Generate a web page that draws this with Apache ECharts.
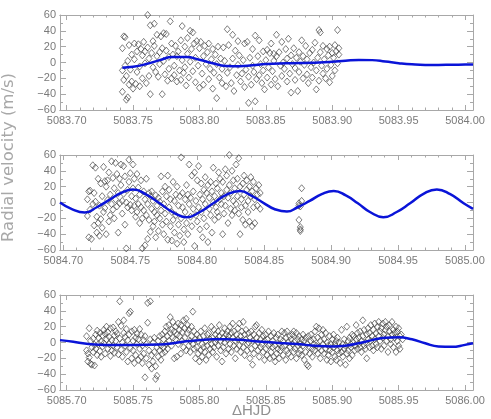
<!DOCTYPE html>
<html>
<head>
<meta charset="utf-8">
<script src="https://cdn.jsdelivr.net/npm/echarts@6/dist/echarts.min.js"></script>
<style>
  html, body { margin: 0; padding: 0; background: #fff; }
  #chart { width: 491px; height: 419px; }
</style>
</head>
<body>
<div id="chart"></div>
<script>
// axis ranges (HJD) of the three nights
var xRanges = [[5083.695, 5084.006], [5084.6975, 5085.006], [5085.695, 5086.006]];
var xTicks1 = [5083.70, 5083.75, 5083.80, 5083.85, 5083.90, 5083.95, 5084.00];
var xTicks2 = [5084.70, 5084.75, 5084.80, 5084.85, 5084.90, 5084.95, 5085.00];
var xTicks3 = [5085.70, 5085.75, 5085.80, 5085.85, 5085.90, 5085.95, 5086.00];
var yTicks = [-60, -40, -20, 0, 20, 40, 60];

// measured radial velocities, night 1
var rv1 = [[5083.742,18],[5083.742,-10],[5083.742,-37],[5083.743,33],[5083.743,-22],[5083.744,32],[5083.744,-4],[5083.745,-47],[5083.745,-17],[5083.746,-44],[5083.746,2],[5083.747,22],[5083.747,-28],[5083.748,-9],[5083.749,10],[5083.749,-24],[5083.750,-33],[5083.751,4],[5083.751,24],[5083.752,-27],[5083.753,-12],[5083.753,14],[5083.754,23],[5083.755,-5],[5083.755,-30],[5083.756,17],[5083.757,9],[5083.757,-20],[5083.758,26],[5083.759,-1],[5083.759,14],[5083.760,-26],[5083.761,19],[5083.761,60],[5083.762,5],[5083.762,-17],[5083.763,47],[5083.763,-40],[5083.764,12],[5083.765,27],[5083.765,-6],[5083.766,49],[5083.766,21],[5083.767,-12],[5083.768,35],[5083.768,8],[5083.769,-18],[5083.770,13],[5083.770,-2],[5083.771,33],[5083.772,-40],[5083.772,18],[5083.773,37],[5083.773,2],[5083.774,-15],[5083.775,15],[5083.775,36],[5083.776,-23],[5083.777,7],[5083.777,-8],[5083.778,52],[5083.779,24],[5083.779,-20],[5083.780,10],[5083.781,-4],[5083.781,-16],[5083.782,21],[5083.783,8],[5083.783,-24],[5083.784,14],[5083.785,-10],[5083.786,28],[5083.786,-22],[5083.787,46],[5083.787,3],[5083.788,-13],[5083.789,20],[5083.789,-6],[5083.790,-29],[5083.791,11],[5083.791,31],[5083.792,-19],[5083.793,1],[5083.793,40],[5083.794,17],[5083.795,-11],[5083.795,38],[5083.796,24],[5083.797,-25],[5083.797,6],[5083.798,27],[5083.799,-4],[5083.800,-32],[5083.800,18],[5083.801,26],[5083.802,-14],[5083.803,8],[5083.803,-28],[5083.804,21],[5083.805,-2],[5083.806,13],[5083.807,-21],[5083.807,24],[5083.808,-8],[5083.809,4],[5083.810,-33],[5083.810,17],[5083.811,-13],[5083.812,10],[5083.813,-45],[5083.813,-2],[5083.814,20],[5083.815,-19],[5083.816,5],[5083.817,-26],[5083.817,-8],[5083.818,19],[5083.819,2],[5083.820,-30],[5083.821,42],[5083.821,-13],[5083.822,22],[5083.823,-6],[5083.824,-26],[5083.825,35],[5083.825,5],[5083.826,-36],[5083.827,15],[5083.828,-16],[5083.829,27],[5083.829,-3],[5083.830,9],[5083.831,-24],[5083.832,-14],[5083.833,3],[5083.834,-31],[5083.834,24],[5083.835,-9],[5083.836,26],[5083.837,-51],[5083.837,-18],[5083.838,6],[5083.839,-28],[5083.840,17],[5083.840,-4],[5083.841,-12],[5083.842,-49],[5083.842,34],[5083.843,-21],[5083.844,8],[5083.845,28],[5083.845,-16],[5083.846,-2],[5083.847,-26],[5083.848,14],[5083.848,-10],[5083.849,-34],[5083.850,3],[5083.851,16],[5083.851,-19],[5083.852,-6],[5083.853,12],[5083.854,-28],[5083.854,24],[5083.855,-11],[5083.856,2],[5083.856,11],[5083.857,-21],[5083.858,35],[5083.858,8],[5083.859,-30],[5083.860,13],[5083.861,-4],[5083.862,-17],[5083.862,26],[5083.863,0],[5083.864,-8],[5083.865,17],[5083.866,-24],[5083.866,5],[5083.867,30],[5083.868,-14],[5083.869,-38],[5083.869,9],[5083.870,-2],[5083.871,18],[5083.872,-22],[5083.872,-7],[5083.873,6],[5083.874,-36],[5083.875,13],[5083.875,-12],[5083.876,1],[5083.877,28],[5083.878,-20],[5083.878,8],[5083.879,-3],[5083.880,21],[5083.881,-15],[5083.881,4],[5083.882,-26],[5083.883,12],[5083.884,-6],[5083.885,16],[5083.885,-19],[5083.886,0],[5083.887,25],[5083.888,-34],[5083.888,-10],[5083.889,6],[5083.890,41],[5083.890,-23],[5083.891,38],[5083.891,13],[5083.892,-4],[5083.893,21],[5083.893,-14],[5083.894,4],[5083.895,-20],[5083.896,17],[5083.896,-8],[5083.897,9],[5083.898,-25],[5083.898,20],[5083.899,-3],[5083.900,12],[5083.900,-17],[5083.901,6],[5083.902,22],[5083.902,-10],[5083.903,14],[5083.904,41],[5083.904,-1],[5083.905,18],[5083.905,10]];

// night 2
var rv2 = [[5084.718,-17],[5084.718,4],[5084.719,14],[5084.719,-44],[5084.720,-9],[5084.720,15],[5084.721,-46],[5084.722,47],[5084.722,-2],[5084.723,-29],[5084.723,12],[5084.724,44],[5084.724,1],[5084.725,-38],[5084.725,-18],[5084.726,30],[5084.726,-26],[5084.727,-4],[5084.727,-42],[5084.728,24],[5084.728,-21],[5084.729,8],[5084.729,-32],[5084.730,-12],[5084.730,45],[5084.731,27],[5084.731,-7],[5084.732,-40],[5084.732,20],[5084.733,28],[5084.733,3],[5084.734,-24],[5084.734,38],[5084.735,-16],[5084.735,10],[5084.736,52],[5084.736,-2],[5084.737,31],[5084.737,-9],[5084.738,18],[5084.738,-20],[5084.739,50],[5084.739,4],[5084.740,36],[5084.740,-5],[5084.741,-38],[5084.741,12],[5084.742,30],[5084.742,-1],[5084.743,48],[5084.743,22],[5084.744,-14],[5084.744,2],[5084.745,46],[5084.745,11],[5084.746,-28],[5084.746,33],[5084.747,-58],[5084.747,0],[5084.748,16],[5084.748,-6],[5084.749,54],[5084.749,26],[5084.750,-3],[5084.750,37],[5084.751,8],[5084.751,-10],[5084.752,48],[5084.752,18],[5084.753,-4],[5084.753,30],[5084.754,-18],[5084.754,5],[5084.755,36],[5084.755,-12],[5084.756,-2],[5084.756,19],[5084.757,-26],[5084.757,10],[5084.758,-6],[5084.758,28],[5084.759,-20],[5084.759,-58],[5084.760,14],[5084.760,-10],[5084.761,-54],[5084.761,4],[5084.762,-16],[5084.762,30],[5084.763,-2],[5084.763,-46],[5084.764,12],[5084.764,-22],[5084.765,8],[5084.765,-37],[5084.766,-8],[5084.766,14],[5084.767,-30],[5084.767,2],[5084.768,-12],[5084.768,-24],[5084.769,9],[5084.769,-44],[5084.770,-4],[5084.770,-16],[5084.771,6],[5084.771,-36],[5084.772,-20],[5084.772,1],[5084.773,33],[5084.773,-10],[5084.774,-28],[5084.774,14],[5084.775,-2],[5084.775,-40],[5084.776,20],[5084.776,-14],[5084.777,8],[5084.777,-24],[5084.778,-47],[5084.778,34],[5084.779,-6],[5084.779,16],[5084.780,-30],[5084.780,4],[5084.781,-12],[5084.781,-48],[5084.782,26],[5084.782,-22],[5084.783,-38],[5084.783,2],[5084.784,10],[5084.784,-16],[5084.785,-52],[5084.785,20],[5084.786,-4],[5084.786,-28],[5084.787,8],[5084.787,-42],[5084.788,57],[5084.788,-20],[5084.789,-6],[5084.789,12],[5084.790,-34],[5084.790,-50],[5084.791,4],[5084.791,-12],[5084.792,22],[5084.792,-26],[5084.793,10],[5084.793,-40],[5084.794,-2],[5084.794,48],[5084.795,-18],[5084.795,6],[5084.796,34],[5084.796,-30],[5084.797,14],[5084.797,-8],[5084.798,-55],[5084.798,38],[5084.799,-16],[5084.799,2],[5084.800,28],[5084.800,-24],[5084.801,46],[5084.801,-6],[5084.802,10],[5084.802,-34],[5084.803,24],[5084.803,-12],[5084.804,4],[5084.804,-44],[5084.805,16],[5084.805,-20],[5084.806,32],[5084.806,-2],[5084.807,-30],[5084.807,12],[5084.808,-50],[5084.808,22],[5084.809,-8],[5084.809,6],[5084.810,26],[5084.810,-16],[5084.811,-38],[5084.811,14],[5084.812,0],[5084.812,44],[5084.813,-22],[5084.813,8],[5084.814,24],[5084.814,-6],[5084.815,-12],[5084.815,18],[5084.816,38],[5084.816,-18],[5084.817,4],[5084.817,30],[5084.818,-2],[5084.818,12],[5084.819,-40],[5084.819,26],[5084.820,8],[5084.820,-14],[5084.821,42],[5084.821,-4],[5084.822,16],[5084.822,34],[5084.823,-26],[5084.823,6],[5084.824,22],[5084.824,60],[5084.825,-8],[5084.825,12],[5084.826,40],[5084.826,-16],[5084.827,28],[5084.827,2],[5084.828,-10],[5084.828,18],[5084.829,48],[5084.829,-2],[5084.830,8],[5084.830,30],[5084.831,-14],[5084.831,56],[5084.832,-40],[5084.832,20],[5084.833,4],[5084.833,-6],[5084.834,24],[5084.834,-22],[5084.835,34],[5084.835,10],[5084.836,-28],[5084.836,-4],[5084.837,16],[5084.837,28],[5084.838,-12],[5084.838,2],[5084.839,20],[5084.839,-24],[5084.840,8],[5084.840,32],[5084.841,-30],[5084.841,14],[5084.842,-6],[5084.842,26],[5084.843,4],[5084.843,-26],[5084.844,18],[5084.845,10],[5084.845,-4],[5084.846,22],[5084.847,-8],[5084.847,12],[5084.876,-1],[5084.876,-22],[5084.876,-4],[5084.877,-31],[5084.877,-34],[5084.877,-36],[5084.877,-5],[5084.878,18],[5084.878,2]];

// night 3
var rv3 = [[5085.715,-10],[5085.715,8],[5085.716,-14],[5085.716,-24],[5085.717,18],[5085.717,-19],[5085.718,-27],[5085.718,2],[5085.719,-6],[5085.719,-28],[5085.720,-12],[5085.720,5],[5085.721,-29],[5085.721,-3],[5085.722,10],[5085.722,-8],[5085.723,15],[5085.723,-16],[5085.724,-2],[5085.724,6],[5085.725,-11],[5085.725,12],[5085.726,1],[5085.726,-18],[5085.727,9],[5085.727,-5],[5085.728,16],[5085.728,-1],[5085.729,-14],[5085.729,11],[5085.730,4],[5085.730,20],[5085.731,-8],[5085.731,13],[5085.732,-2],[5085.732,7],[5085.733,18],[5085.733,-17],[5085.734,3],[5085.734,-10],[5085.735,19],[5085.735,-4],[5085.736,9],[5085.736,-13],[5085.737,14],[5085.737,2],[5085.738,-6],[5085.738,11],[5085.739,26],[5085.739,-15],[5085.740,52],[5085.740,5],[5085.741,-9],[5085.741,21],[5085.742,0],[5085.742,-18],[5085.743,12],[5085.743,28],[5085.744,-4],[5085.744,7],[5085.745,-12],[5085.745,17],[5085.746,3],[5085.746,-24],[5085.747,10],[5085.747,37],[5085.748,-7],[5085.748,39],[5085.749,14],[5085.749,-20],[5085.750,2],[5085.750,-10],[5085.751,16],[5085.751,-26],[5085.752,6],[5085.752,-16],[5085.753,-2],[5085.753,11],[5085.754,-22],[5085.754,4],[5085.755,17],[5085.755,-8],[5085.756,-18],[5085.756,10],[5085.757,-4],[5085.757,-26],[5085.758,3],[5085.758,-14],[5085.759,-44],[5085.759,8],[5085.760,-20],[5085.760,-2],[5085.761,50],[5085.761,25],[5085.762,-10],[5085.762,-28],[5085.763,52],[5085.763,4],[5085.764,-16],[5085.764,-33],[5085.765,0],[5085.765,-24],[5085.766,6],[5085.766,-12],[5085.767,-30],[5085.767,-46],[5085.768,-6],[5085.768,-42],[5085.769,-18],[5085.769,2],[5085.770,-10],[5085.770,8],[5085.771,-22],[5085.771,-4],[5085.772,10],[5085.772,-14],[5085.773,-6],[5085.773,4],[5085.774,14],[5085.774,-12],[5085.775,20],[5085.775,-2],[5085.776,8],[5085.776,-8],[5085.777,22],[5085.777,2],[5085.778,32],[5085.778,12],[5085.779,16],[5085.779,-4],[5085.780,6],[5085.780,26],[5085.781,-20],[5085.781,14],[5085.782,20],[5085.782,4],[5085.783,-18],[5085.783,10],[5085.784,24],[5085.784,-2],[5085.785,16],[5085.785,8],[5085.786,-14],[5085.786,22],[5085.787,2],[5085.787,13],[5085.788,28],[5085.788,-6],[5085.789,18],[5085.789,6],[5085.790,30],[5085.790,-10],[5085.791,12],[5085.791,22],[5085.792,-4],[5085.792,16],[5085.793,2],[5085.793,-12],[5085.794,20],[5085.794,8],[5085.795,-2],[5085.795,39],[5085.796,14],[5085.796,-8],[5085.797,4],[5085.797,-20],[5085.798,10],[5085.798,-6],[5085.799,-14],[5085.799,2],[5085.800,-24],[5085.800,6],[5085.801,-10],[5085.801,14],[5085.802,-2],[5085.802,-18],[5085.803,8],[5085.803,-6],[5085.804,18],[5085.804,-12],[5085.805,2],[5085.805,-22],[5085.806,10],[5085.806,-4],[5085.807,12],[5085.807,-16],[5085.808,-8],[5085.808,4],[5085.809,20],[5085.809,-2],[5085.810,6],[5085.810,-12],[5085.811,16],[5085.811,-6],[5085.812,0],[5085.812,10],[5085.813,-18],[5085.813,4],[5085.814,14],[5085.814,-4],[5085.815,8],[5085.815,22],[5085.816,-10],[5085.816,2],[5085.817,12],[5085.817,-24],[5085.818,6],[5085.818,-6],[5085.819,18],[5085.819,0],[5085.820,10],[5085.820,-14],[5085.821,4],[5085.821,14],[5085.822,-8],[5085.822,8],[5085.823,20],[5085.823,-2],[5085.824,12],[5085.824,-12],[5085.825,6],[5085.825,24],[5085.826,-4],[5085.826,14],[5085.827,-20],[5085.827,2],[5085.828,10],[5085.828,-8],[5085.829,18],[5085.829,4],[5085.830,24],[5085.830,-4],[5085.831,8],[5085.831,-12],[5085.832,14],[5085.832,2],[5085.833,26],[5085.833,-6],[5085.834,10],[5085.834,-16],[5085.835,4],[5085.835,16],[5085.836,-2],[5085.836,-10],[5085.837,12],[5085.837,0],[5085.838,-20],[5085.838,6],[5085.839,-8],[5085.839,14],[5085.840,-28],[5085.840,2],[5085.841,10],[5085.841,-14],[5085.842,20],[5085.842,-4],[5085.843,6],[5085.843,22],[5085.844,-10],[5085.844,0],[5085.845,12],[5085.845,-18],[5085.846,4],[5085.846,-6],[5085.847,16],[5085.847,-2],[5085.848,8],[5085.848,-12],[5085.849,-22],[5085.849,2],[5085.850,10],[5085.850,-8],[5085.851,-16],[5085.851,4],[5085.852,-4],[5085.852,14],[5085.853,-20],[5085.853,-2],[5085.854,8],[5085.854,-12],[5085.855,-6],[5085.855,2],[5085.856,-18],[5085.856,12],[5085.857,-24],[5085.857,-4],[5085.858,6],[5085.858,-14],[5085.859,-8],[5085.859,10],[5085.860,-2],[5085.860,-20],[5085.861,4],[5085.861,-10],[5085.862,14],[5085.862,-6],[5085.863,-16],[5085.863,2],[5085.864,12],[5085.864,-4],[5085.865,-22],[5085.865,6],[5085.866,-10],[5085.866,14],[5085.867,0],[5085.867,-14],[5085.868,8],[5085.868,-6],[5085.869,-18],[5085.869,4],[5085.870,10],[5085.870,-2],[5085.871,-12],[5085.871,14],[5085.872,2],[5085.872,-8],[5085.873,12],[5085.873,-20],[5085.874,4],[5085.874,-4],[5085.875,-14],[5085.875,8],[5085.876,-2],[5085.876,-10],[5085.877,4],[5085.877,-16],[5085.878,10],[5085.878,-4],[5085.879,-22],[5085.879,2],[5085.880,6],[5085.880,-12],[5085.881,-28],[5085.881,-2],[5085.882,-30],[5085.882,8],[5085.883,-6],[5085.883,-14],[5085.884,2],[5085.884,10],[5085.885,-8],[5085.885,-18],[5085.886,4],[5085.886,-2],[5085.887,14],[5085.887,-10],[5085.888,-4],[5085.888,20],[5085.889,6],[5085.889,-14],[5085.890,18],[5085.890,-6],[5085.891,2],[5085.891,-20],[5085.892,10],[5085.892,-10],[5085.893,16],[5085.893,-2],[5085.894,-14],[5085.894,4],[5085.895,-8],[5085.895,12],[5085.896,-22],[5085.896,0],[5085.897,-4],[5085.897,-16],[5085.898,8],[5085.898,-10],[5085.899,-2],[5085.899,-24],[5085.900,4],[5085.900,-12],[5085.901,-6],[5085.901,10],[5085.902,-18],[5085.902,-2],[5085.903,2],[5085.903,-22],[5085.904,-10],[5085.904,6],[5085.905,-14],[5085.905,0],[5085.906,-26],[5085.906,-6],[5085.907,16],[5085.907,-12],[5085.908,-2],[5085.908,-18],[5085.909,4],[5085.909,-8],[5085.910,-28],[5085.910,-4],[5085.911,20],[5085.911,-14],[5085.912,2],[5085.912,-10],[5085.913,-20],[5085.913,6],[5085.914,-6],[5085.914,-2],[5085.915,10],[5085.915,-16],[5085.916,0],[5085.916,8],[5085.917,-10],[5085.917,-4],[5085.918,22],[5085.918,4],[5085.919,-8],[5085.919,12],[5085.920,-2],[5085.920,6],[5085.921,-6],[5085.921,14],[5085.922,2],[5085.922,-12],[5085.923,28],[5085.923,8],[5085.924,-4],[5085.924,16],[5085.925,0],[5085.925,-8],[5085.926,10],[5085.926,-20],[5085.927,4],[5085.927,18],[5085.928,-6],[5085.928,12],[5085.929,2],[5085.929,22],[5085.930,-4],[5085.930,8],[5085.931,16],[5085.931,-10],[5085.932,24],[5085.932,4],[5085.933,-2],[5085.933,12],[5085.934,20],[5085.934,-6],[5085.935,8],[5085.935,26],[5085.936,14],[5085.936,2],[5085.937,-8],[5085.937,18],[5085.938,24],[5085.938,6],[5085.939,10],[5085.939,-4],[5085.940,16],[5085.940,26],[5085.941,2],[5085.941,20],[5085.942,-12],[5085.942,8],[5085.943,14],[5085.943,22],[5085.944,4],[5085.944,-2],[5085.945,26],[5085.945,10],[5085.946,16],[5085.946,-6],[5085.947,6],[5085.947,12],[5085.948,20],[5085.948,-12],[5085.949,2],[5085.949,14],[5085.950,-4],[5085.950,18],[5085.951,8],[5085.951,-8],[5085.952,10],[5085.953,4]];

// fitted model curves
var fit1 = [[5083.742,-6.5],[5083.75,-5.5],[5083.76,-2],[5083.77,3],[5083.78,6.8],[5083.79,6.8],[5083.80,3.5],[5083.81,-1],[5083.82,-4.3],[5083.83,-4.8],[5083.84,-3.5],[5083.85,-2],[5083.86,-1.2],[5083.87,-1],[5083.88,-0.5],[5083.89,0],[5083.90,1],[5083.91,2.3],[5083.92,3.3],[5083.93,3],[5083.94,1.2],[5083.95,-0.8],[5083.96,-2.3],[5083.97,-3],[5083.98,-3],[5083.99,-2.8],[5084.00,-2.6],[5084.006,-2.5]];
var fit2 = [[5084.6975,0],[5084.706,-8],[5084.716,-12.5],[5084.725,-6],[5084.734,3],[5084.743,12],[5084.752,16.5],[5084.762,10],[5084.772,-1],[5084.782,-12.5],[5084.792,-18.5],[5084.802,-12],[5084.812,-1],[5084.822,10],[5084.832,14.5],[5084.841,8],[5084.850,-1],[5084.858,-8.5],[5084.867,-11.5],[5084.875,-6],[5084.884,2],[5084.893,10.5],[5084.902,14.5],[5084.911,9],[5084.920,-1],[5084.929,-12],[5084.939,-18.5],[5084.949,-12],[5084.959,-1],[5084.969,11],[5084.979,16.5],[5084.989,10.5],[5084.999,-1],[5085.006,-8]];
var fit3 = [[5085.695,3],[5085.705,1],[5085.715,-1.5],[5085.73,-3],[5085.75,-3],[5085.77,-2.5],[5085.78,-1],[5085.79,1.5],[5085.80,3],[5085.81,4],[5085.82,4],[5085.83,3.5],[5085.84,2],[5085.85,0.5],[5085.86,-0.5],[5085.87,-1.5],[5085.88,-3],[5085.89,-4.5],[5085.90,-5],[5085.91,-4],[5085.92,-1],[5085.93,3],[5085.94,6],[5085.95,6.5],[5085.96,4],[5085.97,-1],[5085.98,-5],[5085.99,-5.5],[5086.00,-3],[5086.006,-1]];

var myChart = echarts.init(document.getElementById('chart'), null, { renderer: 'canvas' });

var frameColor = '#a8a8a8';
var labelColor = '#7a7a7a';
var fontName = 'Liberation Sans';
var gridTops = [15, 155, 295];
var majorTicks = [xTicks1, xTicks2, xTicks3];
var rvData = [rv1, rv2, rv3];
var fitData = [fit1, fit2, fit3];

// minor tick positions every 0.01 day
function minorList(r) {
    var out = [];
    var start = Math.ceil(r[0] * 100);
    var end = Math.floor(r[1] * 100);
    for (var i = start; i <= end; i++) out.push(i / 100);
    return out;
}

var grids = [], xAxes = [], yAxes = [], series = [];
for (var g = 0; g < 3; g++) {
    grids.push({ left: 60, width: 413, top: gridTops[g], height: 95 });
    var r = xRanges[g];
    var base = {
        type: 'value', gridIndex: g, min: r[0], max: r[1],
        splitLine: { show: false },
        axisLine: { show: true, onZero: false, lineStyle: { color: frameColor, width: 1 } }
    };
    // bottom, major ticks + labels
    xAxes.push(Object.assign({}, base, {
        position: 'bottom',
        axisTick: { inside: true, length: 5, customValues: majorTicks[g], lineStyle: { color: frameColor } },
        axisLabel: {
            customValues: majorTicks[g], color: labelColor, fontFamily: fontName, fontSize: 11, margin: 5,
            formatter: function (v) { return v.toFixed(2); }
        }
    }));
    // bottom, minor ticks
    xAxes.push(Object.assign({}, base, {
        position: 'bottom',
        axisTick: { inside: true, length: 2.5, customValues: minorList(r), lineStyle: { color: frameColor } },
        axisLabel: { show: false }
    }));
    // top, major
    xAxes.push(Object.assign({}, base, {
        position: 'top',
        axisTick: { inside: true, length: 5, customValues: majorTicks[g], lineStyle: { color: frameColor } },
        axisLabel: { show: false }
    }));
    // top, minor
    xAxes.push(Object.assign({}, base, {
        position: 'top',
        axisTick: { inside: true, length: 2.5, customValues: minorList(r), lineStyle: { color: frameColor } },
        axisLabel: { show: false }
    }));

    var ybase = {
        type: 'value', gridIndex: g, min: -60, max: 60, interval: 20,
        splitLine: { show: false },
        axisLine: { show: true, onZero: false, lineStyle: { color: frameColor, width: 1 } },
        axisTick: { inside: true, length: 6, lineStyle: { color: frameColor } },
        minorTick: { show: true, splitNumber: 2, length: 3, lineStyle: { color: frameColor } }
    };
    yAxes.push(Object.assign({}, ybase, {
        position: 'left',
        axisLabel: {
            customValues: yTicks, color: labelColor, fontFamily: fontName, fontSize: 11, margin: 4,
            formatter: function (v) { return v < 0 ? '\u2212' + Math.abs(v) : String(v); }
        }
    }));
    yAxes.push(Object.assign({}, ybase, { position: 'right', axisLabel: { show: false } }));

    series.push({
        type: 'scatter',
        xAxisIndex: g * 4, yAxisIndex: g * 2,
        data: rvData[g],
        symbol: 'diamond',
        symbolSize: [6, 7],
        clip: true,
        itemStyle: { color: 'rgba(0,0,0,0)', borderColor: '#333', borderWidth: 0.8 }
    });
    series.push({
        type: 'line',
        xAxisIndex: g * 4, yAxisIndex: g * 2,
        data: fitData[g],
        smooth: 0.5,
        showSymbol: false,
        clip: true,
        lineStyle: { color: '#0a14d8', width: 2.5 },
        z: 5
    });
}

var option = {
    animation: false,
    backgroundColor: '#fff',
    grid: grids,
    xAxis: xAxes,
    yAxis: yAxes,
    series: series,
    graphic: [
        {
            type: 'text', left: 0, top: 73, rotation: Math.PI / 2,
            style: { text: 'Radial velocity (m/s)', fill: '#a8a8a8', font: '16.5px "DejaVu Sans"' }
        },
        {
            type: 'text', left: 232, top: 403,
            style: { text: '\u0394HJD', fill: '#909090', font: '15px "Liberation Sans"' }
        }
    ]
};
myChart.setOption(option);
</script>
</body>
</html>
